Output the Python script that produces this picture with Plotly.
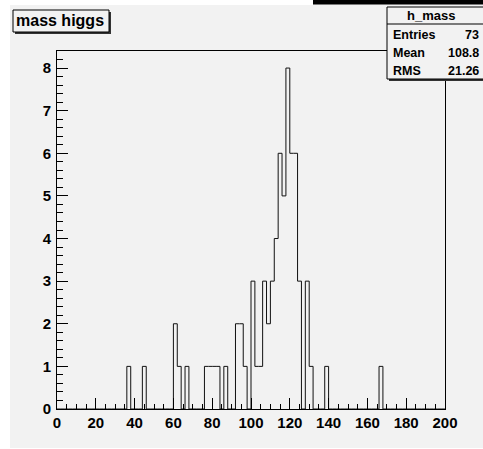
import numpy as np
import plotly.graph_objects as go

# Histogram "h_mass": 100 bins of width 2 over [0, 200]
x_min, x_max, n_bins = 0.0, 200.0, 100
# lower edges of the filled bins and their contents
bin_low = [36, 44, 60, 62, 66, 76, 78, 80, 82, 86, 92, 94, 96, 100, 102, 104,
           106, 108, 110, 112, 114, 116, 118, 120, 122, 124, 128, 130, 138, 166]
bin_count = [1, 1, 2, 1, 1, 1, 1, 1, 1, 1, 2, 2, 1, 3, 1, 1,
             3, 2, 3, 4, 6, 5, 8, 6, 6, 3, 3, 1, 1, 1]

x_ticks = [0, 20, 40, 60, 80, 100, 120, 140, 160, 180, 200]
y_ticks = [0, 1, 2, 3, 4, 5, 6, 7, 8]

title_text = "mass higgs"
stats_name = "h_mass"
stats_rows = [("Entries", "73"), ("Mean", "108.8"), ("RMS", "21.26")]

# full bin array
width = (x_max - x_min) / n_bins
counts = np.zeros(n_bins)
for lo, c in zip(bin_low, bin_count):
    counts[int(round((lo - x_min) / width))] = c
edges = np.linspace(x_min, x_max, n_bins + 1)
y_step = np.append(counts, counts[-1])

W, H = 483, 449
ML, MR, MT, MB = 57, 38, 51, 40
PW, PH = W - ML - MR, H - MT - MB
BG = "#f2f2f2"
FONT = "Liberation Sans, Arial, sans-serif"


def fx(px):
    return (px - ML) / PW


def fy(py):
    return (H - MB - py) / PH


fig = go.Figure()
fig.add_trace(go.Scatter(
    x=edges, y=y_step, mode="lines", line=dict(shape="hv", color="#111111", width=1),
    hoverinfo="skip", showlegend=False,
))

shapes = []
annotations = []

# white border strips and dark band along the top
for x0, y0, x1, y1, col in [
    (0, 0, 10, H, "white"),
    (0, 0, 313, 5, "white"),
    (0, 448, W, H, "white"),
    (313, 0, W, 4.5, "black"),
]:
    shapes.append(dict(type="rect", xref="paper", yref="paper",
                       x0=fx(x0), x1=fx(x1), y0=fy(y1), y1=fy(y0),
                       fillcolor=col, line=dict(width=0), layer="above"))

# title box with shadow
shapes.append(dict(type="rect", xref="paper", yref="paper",
                   x0=fx(15), x1=fx(111), y0=fy(34), y1=fy(12),
                   fillcolor="#333333", line=dict(width=0)))
shapes.append(dict(type="rect", xref="paper", yref="paper",
                   x0=fx(13), x1=fx(109), y0=fy(32), y1=fy(10),
                   fillcolor=BG, line=dict(color="black", width=1)))
annotations.append(dict(text=title_text, xref="paper", yref="paper",
                        x=fx(60), y=fy(21), showarrow=False,
                        xanchor="center", yanchor="middle",
                        font=dict(family=FONT, size=16, color="black", weight="bold")))

# statistics box
shapes.append(dict(type="rect", xref="paper", yref="paper",
                   x0=fx(389), x1=fx(500), y0=fy(81), y1=fy(9),
                   fillcolor="#333333", line=dict(width=0)))
shapes.append(dict(type="rect", xref="paper", yref="paper",
                   x0=fx(387), x1=fx(498), y0=fy(79), y1=fy(7),
                   fillcolor=BG, line=dict(color="black", width=1)))
shapes.append(dict(type="line", xref="paper", yref="paper",
                   x0=fx(387), x1=fx(498), y0=fy(24), y1=fy(24),
                   line=dict(color="black", width=1)))
annotations.append(dict(text=stats_name, xref="paper", yref="paper",
                        x=fx(431), y=fy(15.5), showarrow=False,
                        xanchor="center", yanchor="middle",
                        font=dict(family=FONT, size=13, color="black", weight="bold")))
for i, (lab, val) in enumerate(stats_rows):
    yy = fy(34.5 + 18.5 * i)
    annotations.append(dict(text=lab, xref="paper", yref="paper", x=fx(391), y=yy,
                            showarrow=False, xanchor="left", yanchor="middle",
                            font=dict(family=FONT, size=12.5, color="black", weight="bold")))
    annotations.append(dict(text=val, xref="paper", yref="paper", x=fx(481), y=yy,
                            showarrow=False, xanchor="right", yanchor="middle",
                            font=dict(family=FONT, size=12.5, color="black", weight="bold")))

tick_font = dict(family=FONT, size=15, color="black", weight="bold")

fig.update_layout(
    width=W, height=H,
    margin=dict(l=ML, r=MR, t=MT, b=MB, pad=0),
    paper_bgcolor=BG, plot_bgcolor=BG,
    showlegend=False,
    shapes=shapes, annotations=annotations,
    xaxis=dict(
        range=[x_min, x_max], tickmode="array", tickvals=x_ticks,
        ticktext=[str(t) for t in x_ticks],
        ticks="inside", ticklen=11, tickwidth=1, tickcolor="black",
        minor=dict(dtick=5, tick0=0, ticks="inside", ticklen=5, tickcolor="black", tickwidth=1),
        showline=True, linecolor="black", linewidth=1, mirror=True,
        showgrid=False, zeroline=False, tickfont=tick_font, ticklabelstandoff=0,
    ),
    yaxis=dict(
        range=[0, 8.4], tickmode="array", tickvals=y_ticks,
        ticktext=[str(t) for t in y_ticks],
        ticks="inside", ticklen=11, tickwidth=1, tickcolor="black",
        minor=dict(dtick=0.2, tick0=0, ticks="inside", ticklen=6, tickcolor="black", tickwidth=1),
        showline=True, linecolor="black", linewidth=1, mirror=True,
        showgrid=False, zeroline=False, tickfont=tick_font, ticklabelstandoff=2,
    ),
)

fig.write_html("out.html")
